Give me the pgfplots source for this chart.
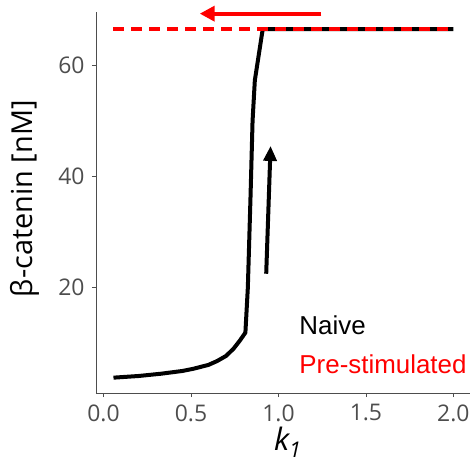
\documentclass[border=0pt]{standalone}
\usepackage{fontspec}
\setmainfont{Open Sans}
\newfontfamily\arialfont{Liberation Sans}
\usepackage{pgfplots}
\pgfplotsset{compat=1.18}
\usetikzlibrary{arrows.meta}
\definecolor{axgray}{HTML}{4D4D4D}
\begin{document}
\begin{tikzpicture}
\begin{axis}[
  scale only axis,
  width=374bp, height=381bp,
  xmin=-0.043, xmax=2.095,
  ymin=1.04, ymax=69.6,
  axis x line*=bottom, axis y line*=left,
  axis line style={draw=axgray, line width=1pt, -},
  tick align=outside,
  major tick length=4bp,
  tick style={draw=axgray, line width=0.8pt},
  xtick={0,0.5,1,1.5,2},
  xticklabels={0.0,0.5,1.0,1.5,2.0},
  ytick={20,40,60},
  /pgf/number format/assume math mode=true,
  ticklabel style={font=\fontsize{23}{26}\selectfont, text=axgray},
  xticklabel style={yshift=-4bp},
  yticklabel style={xshift=-4bp},
  ylabel={β-catenin [nM]},
  ylabel style={font=\fontsize{29}{34}\selectfont, at={(axis description cs:-0.19,0.51)}, anchor=center},
  xlabel={\textit{k\textsubscript{1}}},
  xlabel style={font=\fontsize{31}{34}\selectfont, at={(axis description cs:0.513,-0.13)}, anchor=center},
  clip=false,
]
\addplot[black, line width=4bp, line join=round, line cap=butt] coordinates {
 (0.057,3.8) (0.2,4.1) (0.326,4.5) (0.45,5.0) (0.514,5.4) (0.6,6.1) (0.65,6.8) (0.7,7.7) (0.743,9) (0.78,10.5) (0.811,11.9)
 (0.825,20) (0.84,36) (0.852,50) (0.865,57.3) (0.91,66.5) (2.0,66.5)
};
\addplot[red, line width=4bp, dash pattern=on 11bp off 7bp] coordinates {
 (0.057,66.5) (2.0,66.5)
};
\addplot[red, line width=4bp, -{Triangle[length=15bp,width=15bp]}] coordinates {
 (1.245,69.3) (0.55,69.3)
};
\addplot[black, line width=4bp, -{Triangle[length=15bp,width=13bp]}] coordinates {
 (0.93,22.5) (0.955,45.5)
};
\node[anchor=west, font=\arialfont\fontsize{26}{30}\selectfont, text=black] at (axis cs:1.1,13.2) {Naive};
\node[anchor=west, font=\arialfont\fontsize{26}{30}\selectfont, text=red] at (axis cs:1.1,6.3) {Pre-stimulated};
\end{axis}
\pgfresetboundingbox
\useasboundingbox (-96bp,-73bp) rectangle (380bp,393bp);
\end{tikzpicture}
\end{document}
